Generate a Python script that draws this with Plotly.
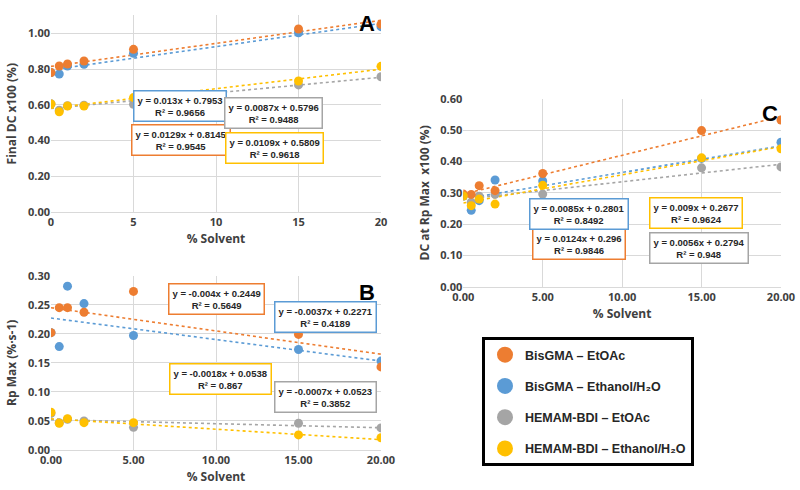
import plotly.graph_objects as go

W, H = 800, 490

SOLVENT = [0, 0.5, 1, 2, 5, 15, 20]
SERIES = [
    "BisGMA – EtOAc",
    "BisGMA – Ethanol/H₂O",
    "HEMAM-BDI – EtOAc",
    "HEMAM-BDI – Ethanol/H₂O",
]
COLORS = ["#ED7D31", "#5B9BD5", "#A5A5A5", "#FFC000"]

# panel A - final DC x100
dc_bis_etoac = [0.78, 0.817, 0.828, 0.845, 0.91, 1.024, 1.05]
dc_bis_etoh = [0.78, 0.772, 0.817, 0.826, 0.888, 1.003, 1.037]
dc_hem_etoac = [0.605, 0.57, 0.595, 0.597, 0.603, 0.711, 0.757]
dc_hem_etoh = [0.604, 0.561, 0.593, 0.593, 0.64, 0.733, 0.815]

# panel B - Rp max
rp_bis_etoac = [0.202, 0.245, 0.245, 0.237, 0.273, 0.199, 0.143]
rp_bis_etoh = [0.202, 0.178, 0.282, 0.252, 0.197, 0.173, 0.153]
rp_hem_etoac = [0.063, 0.047, 0.053, 0.050, 0.039, 0.046, 0.038]
rp_hem_etoh = [0.065, 0.046, 0.054, 0.047, 0.047, 0.026, 0.021]

# panel C - DC at Rp max x100
dcr_bis_etoac = [0.296, 0.295, 0.323, 0.307, 0.362, 0.499, 0.533]
dcr_bis_etoh = [0.29, 0.244, 0.275, 0.341, 0.338, 0.41, 0.462]
dcr_hem_etoac = [0.29, 0.27, 0.289, 0.295, 0.296, 0.380, 0.383]
dcr_hem_etoh = [0.29, 0.259, 0.28, 0.264, 0.324, 0.412, 0.441]

# linear fits (slope, intercept, R2), same order as SERIES
fit_A = [(0.0129, 0.8145, 0.9545), (0.013, 0.7953, 0.9656),
         (0.0087, 0.5796, 0.9488), (0.0109, 0.5809, 0.9618)]
fit_B = [(-0.004, 0.2449, 0.5649), (-0.0037, 0.2271, 0.4189),
         (-0.0007, 0.0523, 0.3852), (-0.0018, 0.0538, 0.867)]
fit_C = [(0.0124, 0.296, 0.9846), (0.0085, 0.2801, 0.8492),
         (0.0056, 0.2794, 0.948), (0.009, 0.2677, 0.9624)]

FIT_X = [0, 20]

panels = [
    ("x", "y", [dc_bis_etoac, dc_bis_etoh, dc_hem_etoac, dc_hem_etoh], fit_A),
    ("x2", "y2", [rp_bis_etoac, rp_bis_etoh, rp_hem_etoac, rp_hem_etoh], fit_B),
    ("x3", "y3", [dcr_bis_etoac, dcr_bis_etoh, dcr_hem_etoac, dcr_hem_etoh], fit_C),
]

# pixel centres of the equation boxes (A, B, C), series order
BOX_POS = [
    [(181, 140), (180, 106), (273, 113), (274, 148)],
    [(216, 299), (325, 317), (325, 397), (220, 379)],
    [(579, 244), (579, 214), (699, 248), (696, 213)],
]

TXT = "#404040"
GRID = "#D9D9D9"
FONT = "Open Sans"
DRAW_ORDER = [1, 2, 0, 3]


def px(x, y):
    return x / W, 1 - y / H


fig = go.Figure()

for xa, ya, series, fits in panels:
    for i in DRAW_ORDER:
        m, b, _ = fits[i]
        fig.add_trace(go.Scatter(
            x=FIT_X, y=[m * v + b for v in FIT_X], mode="lines",
            line=dict(color=COLORS[i], width=1.6, dash="dot"),
            xaxis=xa, yaxis=ya, showlegend=False, hoverinfo="skip",
        ))
    for i in DRAW_ORDER:
        fig.add_trace(go.Scatter(
            x=SOLVENT, y=series[i], mode="markers",
            marker=dict(size=9, color=COLORS[i]),
            xaxis=xa, yaxis=ya, showlegend=False, name=SERIES[i],
        ))

# legend-only entries
for i, name in enumerate(SERIES):
    fig.add_trace(go.Scatter(
        x=[None], y=[None], mode="markers",
        marker=dict(size=16, color=COLORS[i]),
        name=name, legendgroup=str(i), showlegend=True,
    ))

annotations = []
for (xa, ya, series, fits), boxes in zip(panels, BOX_POS):
    for i, (m, b, r2) in enumerate(fits):
        bx, by = px(*boxes[i])
        annotations.append(dict(
            text=f"y = {m:g}x + {b:g}<br>R² = {r2:g}",
            x=bx, y=by, xref="paper", yref="paper",
            xanchor="center", yanchor="middle", showarrow=False,
            font=dict(family="Liberation Sans", size=9.5, color="#262626", weight="bold"),
            bordercolor=COLORS[i], borderwidth=1.5, borderpad=3,
            bgcolor="white",
        ))

for letter, (lx, ly) in zip("ABC", [(367, 23), (367, 292), (770, 113)]):
    ax, ay = px(lx, ly)
    annotations.append(dict(
        text=letter, x=ax, y=ay, xref="paper", yref="paper",
        xanchor="center", yanchor="middle", showarrow=False,
        font=dict(family="Liberation Sans", size=22, color="black", weight="bold"),
    ))

tickfont = dict(family=FONT, size=11, color=TXT, weight="bold")
titlefont = dict(family=FONT, size=12, color=TXT, weight="bold")


def xaxis(dom, anchor, fmt):
    return dict(
        domain=[dom[0] / W, dom[1] / W], anchor=anchor, range=[0, 20],
        dtick=5, tickformat=fmt, showgrid=True, gridcolor=GRID,
        showline=True, linecolor=GRID, zeroline=False, ticks="",
        automargin=False, tickfont=tickfont,
        title=dict(text="% Solvent", font=titlefont, standoff=6),
    )


def yaxis(dom, anchor, rng, dtick, title):
    return dict(
        domain=[1 - dom[1] / H, 1 - dom[0] / H], anchor=anchor, range=rng,
        dtick=dtick, tickformat=".2f", showgrid=True, gridcolor=GRID,
        zeroline=False, showline=False, ticks="",
        automargin=False, tickfont=tickfont,
        title=dict(text=title, font=titlefont, standoff=8),
    )


fig.update_layout(
    width=W, height=H,
    paper_bgcolor="white", plot_bgcolor="white",
    margin=dict(l=0, r=0, t=0, b=0),
    xaxis=xaxis((51, 381), "y", "d"),
    yaxis=yaxis((15.4, 212), "x", [0, 1.1], 0.2, "Final DC x100 (%)"),
    xaxis2=xaxis((51, 381), "y2", ".2f"),
    yaxis2=yaxis((275.7, 450), "x2", [0, 0.3], 0.05, "Rp Max (%·s-1)"),
    xaxis3=xaxis((463.3, 781), "y3", ".2f"),
    yaxis3=yaxis((99, 286.7), "x3", [0, 0.6], 0.1, "DC at Rp Max  x100 (%)"),
    annotations=annotations,
    showlegend=True,
    legend=dict(
        x=482 / W, y=1 - 337 / H, xanchor="left", yanchor="top",
        bordercolor="black", borderwidth=3, bgcolor="white",
        font=dict(family="Liberation Sans", size=12.5, color="#262626", weight="bold"),
        tracegroupgap=12, itemwidth=30,
    ),
)

fig.write_html(
    "out.html",
    config={"displayModeBar": False},
    post_script="document.body.style.margin='0';",
)
